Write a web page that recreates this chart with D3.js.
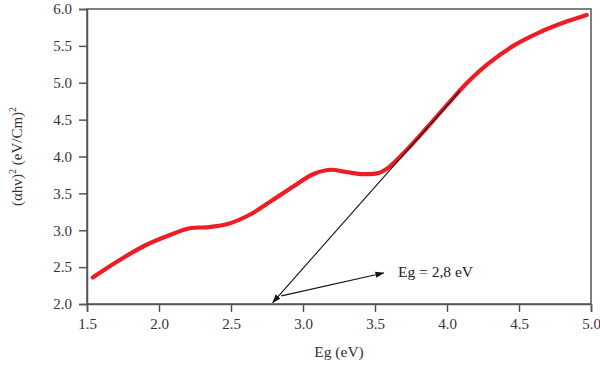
<!DOCTYPE html>
<html>
<head>
<meta charset="utf-8">
<script src="https://cdn.jsdelivr.net/npm/d3@7"></script>
<style>
  body { margin: 0; background: #fff; }
  svg { display: block; font-family: "Liberation Serif", "DejaVu Serif", serif; }
</style>
</head>
<body>
<svg id="chart" width="600" height="377"></svg>
<script>
// photon energy (eV) and (αhν)²
const energy = [1.54, 1.73, 1.91, 2.08, 2.22, 2.33, 2.47, 2.63, 2.79, 2.93, 3.07, 3.19, 3.30, 3.42, 3.53, 3.60, 3.72, 3.86, 4.00, 4.14, 4.28, 4.46, 4.65, 4.83, 4.97];
const absorb = [2.36, 2.60, 2.80, 2.94, 3.03, 3.04, 3.08, 3.21, 3.41, 3.59, 3.76, 3.82, 3.79, 3.76, 3.78, 3.86, 4.09, 4.39, 4.70, 5.00, 5.25, 5.50, 5.69, 5.83, 5.92];

const xTicks = [1.5, 2.0, 2.5, 3.0, 3.5, 4.0, 4.5, 5.0];
const yTicks = [2.0, 2.5, 3.0, 3.5, 4.0, 4.5, 5.0, 5.5, 6.0];

// tangent extrapolation and label arrow
const tangent = [[4.09, 4.89], [2.79, 2.02]];
const labelArrow = [[2.85, 2.11], [3.56, 2.42]];
const labelPos = [3.66, 2.42];
const labelText = "Eg = 2,8 eV";

const svg = d3.select("#chart");
const margin = { top: 9, right: 9, bottom: 73, left: 87 };
const width = 600, height = 377;

const x = d3.scaleLinear().domain([1.5, 5.0]).range([margin.left, width - margin.right]);
const y = d3.scaleLinear().domain([2.0, 6.0]).range([height - margin.bottom, margin.top]);

const axisColor = "#555";

svg.append("defs").append("marker")
  .attr("id", "arrow")
  .attr("viewBox", "0 0 10 10")
  .attr("refX", 9).attr("refY", 5)
  .attr("markerWidth", 9).attr("markerHeight", 9)
  .attr("markerUnits", "userSpaceOnUse")
  .attr("orient", "auto")
  .append("path")
  .attr("d", "M0,1.5 L10,5 L0,8.5 Z")
  .attr("fill", "#111");

// frame
svg.append("rect")
  .attr("x", x(1.5)).attr("y", y(6.0))
  .attr("width", x(5.0) - x(1.5)).attr("height", y(2.0) - y(6.0))
  .attr("fill", "none").attr("stroke", axisColor).attr("stroke-width", 1.5);

const xAxis = svg.append("g")
  .attr("transform", `translate(0,${y(2.0)})`)
  .call(d3.axisBottom(x).tickValues(xTicks).tickFormat(d3.format(".1f")).tickSize(8).tickPadding(6));

const yAxis = svg.append("g")
  .attr("transform", `translate(${x(1.5)},0)`)
  .call(d3.axisLeft(y).tickValues(yTicks).tickFormat(d3.format(".1f")).tickSize(8).tickPadding(7));

[xAxis, yAxis].forEach(g => {
  g.attr("font-family", null).attr("font-size", null);
  g.select(".domain").attr("stroke", axisColor).attr("stroke-width", 1.5);
  g.selectAll(".tick line").attr("stroke", axisColor).attr("stroke-width", 1.5);
  g.selectAll(".tick text")
    .attr("fill", "#333")
    .style("font-family", "Liberation Serif, serif")
    .style("font-size", "15px");
});

// curve
const pts = energy.map((e, i) => [e, absorb[i]]);
svg.append("path")
  .datum(pts)
  .attr("fill", "none")
  .attr("stroke", "#ee1c24")
  .attr("stroke-width", 4.2)
  .attr("stroke-linecap", "round")
  .attr("d", d3.line().x(d => x(d[0])).y(d => y(d[1])).curve(d3.curveCatmullRom.alpha(0.5)));

// annotation lines
[tangent, labelArrow].forEach(seg => {
  svg.append("line")
    .attr("x1", x(seg[0][0])).attr("y1", y(seg[0][1]))
    .attr("x2", x(seg[1][0])).attr("y2", y(seg[1][1]))
    .attr("stroke", "#111").attr("stroke-width", 1.1)
    .attr("marker-end", "url(#arrow)");
});

svg.append("text")
  .attr("x", x(labelPos[0])).attr("y", y(labelPos[1]))
  .attr("dominant-baseline", "middle")
  .attr("fill", "#222")
  .style("font-size", "15.5px")
  .text(labelText);

// axis titles
svg.append("text")
  .attr("x", (x(1.5) + x(5.0)) / 2).attr("y", 357)
  .attr("text-anchor", "middle")
  .attr("fill", "#333")
  .style("font-size", "15.5px")
  .text("Eg (eV)");

const yTitle = svg.append("text")
  .attr("transform", `translate(22,${(y(2.0) + y(6.0)) / 2}) rotate(-90)`)
  .attr("text-anchor", "middle")
  .attr("fill", "#333")
  .style("font-size", "15px");
yTitle.append("tspan").text("(\u03b1h\u03bd)");
yTitle.append("tspan").attr("dy", -6).style("font-size", "10px").text("2");
yTitle.append("tspan").attr("dy", 6).text(" (eV/Cm)");
yTitle.append("tspan").attr("dy", -6).style("font-size", "10px").text("2");
</script>
</body>
</html>
